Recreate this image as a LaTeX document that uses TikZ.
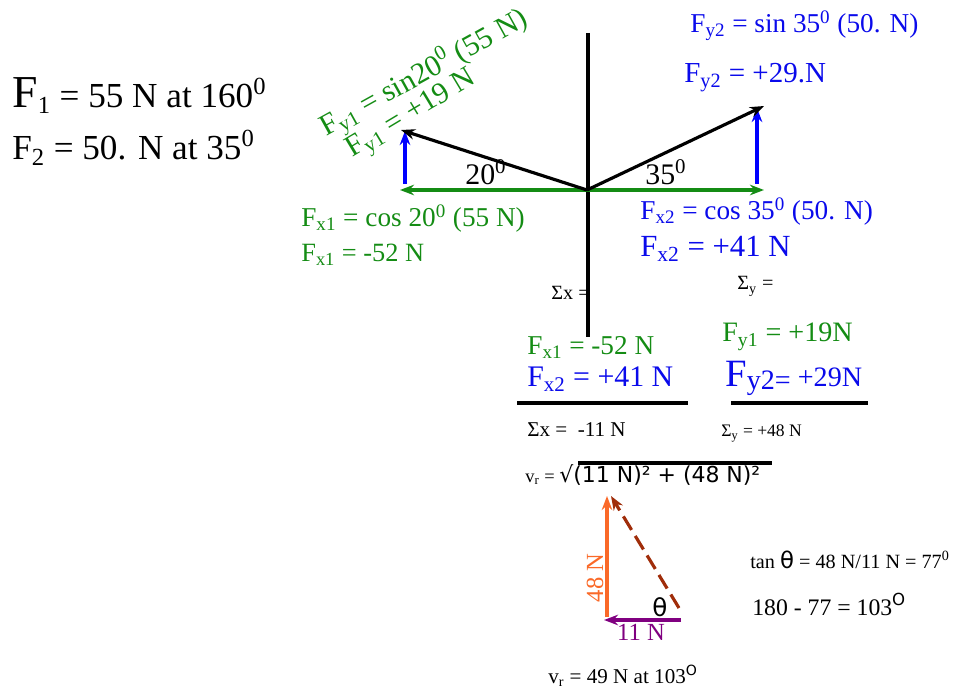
\documentclass[tikz,border=0pt]{standalone}
\usepackage{fontspec}
\setmainfont{Liberation Serif}
\setsansfont{DejaVu Sans}
\usetikzlibrary{arrows.meta}

\definecolor{fgreen}{RGB}{20,140,20}
\definecolor{fblue}{RGB}{10,10,235}
\definecolor{forange}{RGB}{250,105,40}
\definecolor{fbrown}{RGB}{160,45,10}
\definecolor{fpurple}{RGB}{128,0,128}

\newcommand{\fs}[1]{\fontsize{#1}{#1}\selectfont}

\begin{document}
\begin{tikzpicture}[x=0.02cm, y=-0.02cm,
    vec/.style={-{Stealth[length=8pt, width=6pt]}, line width=1.8pt},
    lbl/.style={anchor=base west, inner sep=0pt},
    axis/.style={line width=1.8pt}]
    \useasboundingbox (0,0) rectangle (954,689);

    % Given forces
    \node[lbl] (f1) at (12,108) {\fs{26}F\fs{20}\textsubscript{1} = 55 N at 160\textsuperscript{0}};
    \node[lbl] (f2) at (12,160) {\fs{20}F\textsubscript{2} = 50. N at 35\textsuperscript{0}};

    % Axes
    \coordinate (O) at (587,190);
    \coordinate (yt) at (588,33);
    \coordinate (yb) at (588,337);
    \coordinate (xl) at (470,190);
    \coordinate (xr) at (715,190);
    \draw[axis] (yt) -- (yb);
    \draw[axis] (xl) -- (xr);

    % Components
    \coordinate (x1) at (400,190);
    \coordinate (x2) at (764,190);
    \coordinate (y1a) at (405,184);
    \coordinate (y1b) at (405,131);
    \coordinate (y2a) at (757,184);
    \coordinate (y2b) at (757,108);
    \draw[vec, fgreen] (O) -- (x1);
    \draw[vec, fgreen] (O) -- (x2);
    \draw[vec, blue] (y1a) -- (y1b);
    \draw[vec, blue] (y2a) -- (y2b);

    % Force vectors
    \coordinate (F1) at (401,130);
    \coordinate (F2) at (764,106);
    \draw[vec] (O) -- (F1);
    \draw[vec] (O) -- (F2);

    % Angles
    \node[lbl] (a1) at (465,185) {\fs{17}20\textsuperscript{0}};
    \node[lbl] (a2) at (645,185) {\fs{17}35\textsuperscript{0}};

    % Left labels
    \node[lbl, fgreen, rotate=29] (fy1s) at (326,137) {\fs{17}F\textsubscript{y1} = sin20\textsuperscript{0} (55 N)};
    \node[lbl, fgreen, rotate=31] (fy1v) at (352,158) {\fs{17}F\textsubscript{y1} = +19 N};
    \node[lbl, fgreen] (fx1c) at (301,227) {\fs{15.5}F\textsubscript{x1} = cos 20\textsuperscript{0} (55 N)};
    \node[lbl, fgreen] (fx1v) at (301,262) {\fs{15}F\textsubscript{x1} = -52 N};

    % Right labels
    \node[lbl, fblue] (fy2s) at (690,33) {\fs{15.5}F\textsubscript{y2} = sin 35\textsuperscript{0} (50. N)};
    \node[lbl, fblue] (fy2v) at (684,83) {\fs{16.5}F\textsubscript{y2} = +29.N};
    \node[lbl, fblue] (fx2c) at (640,220) {\fs{15.5}F\textsubscript{x2} = cos 35\textsuperscript{0} (50. N)};
    \node[lbl, fblue] (fx2v) at (640,257) {\fs{17.5}F\textsubscript{x2} = +41 N};
    \node[lbl] (sy0) at (737,290) {\fs{11.5}Σ\textsubscript{y} =};
    \node[lbl] (sx0) at (551,300) {\fs{11.5}Σx =};

    % Sums
    \node[lbl, fgreen] (sx1) at (527,355) {\fs{15.5}F\textsubscript{x1} = -52 N};
    \node[lbl, fblue] (sx2) at (527,387) {\fs{17}F\textsubscript{x2} = +41 N};
    \node[lbl, fgreen] (sy1) at (722,342) {\fs{16}F\textsubscript{y1} = +19N};
    \node[lbl, fblue] (sy2) at (725,386) {\fs{22}F\fs{16}\raisebox{-0.3ex}{y2=} +29N};
    \coordinate (ux1) at (517,403);
    \coordinate (ux2) at (688,403);
    \coordinate (uy1) at (731,403);
    \coordinate (uy2) at (868,403);
    \draw[axis] (ux1) -- (ux2);
    \draw[axis] (uy1) -- (uy2);
    \node[lbl] (sx) at (527,437) {\fs{12}Σx =~~-11 N};
    \node[lbl] (sy) at (721,437) {\fs{10}Σ\textsubscript{y} = +48 N};

    % Resultant
    \node[lbl] (vr) at (525,482) {\fs{10.5}v\textsubscript{r} = \sffamily\fs{12.5}√(11 N)² + (48 N)²};
    \coordinate (r1) at (578,463);
    \coordinate (r2) at (772,463);
    \draw[line width=1.8pt] (r1) -- (r2);

    % Triangle
    \coordinate (A) at (607,617);
    \coordinate (B) at (607,496);
    \coordinate (C) at (681,620);
    \coordinate (D) at (604,620);
    \coordinate (E) at (679,608);
    \coordinate (G) at (611,496);
    \draw[vec, forange] (A) -- (B);
    \draw[vec, fpurple] (C) -- (D);
    \draw[vec, fbrown, dashed, dash pattern=on 9pt off 4pt] (E) -- (G);
    \node[forange, rotate=90] (l48) at (595,578) {\fs{14}48 N};
    \node[fpurple] (l11) at (641,632) {\fs{14}11 N};
    \node (th) at (660,607) {\sffamily\fs{14}θ};

    % Angle result
    \node[lbl] (tan) at (750,568) {\fs{11.5}tan {\sffamily\fs{13}θ} = 48 N/11 N = 77\textsuperscript{0}};
    \node[lbl] (ang) at (752,615) {\fs{13.5}180 - 77 = 103\textsuperscript{\sffamily O}};
    \node[lbl] (res) at (548,683) {\fs{12}v\textsubscript{r} = 49 N at 103\textsuperscript{\sffamily O}};
\end{tikzpicture}
\end{document}
